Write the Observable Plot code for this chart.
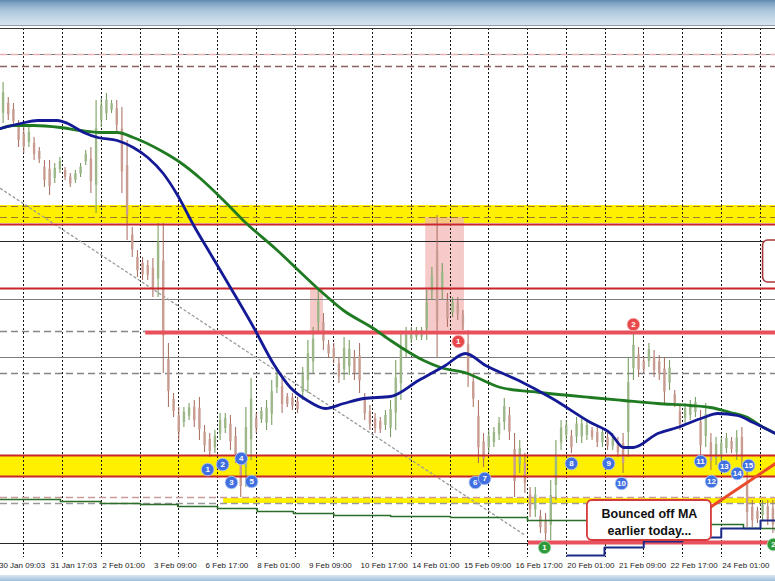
<!DOCTYPE html>
<html><head><meta charset="utf-8">
<script src="https://cdn.jsdelivr.net/npm/d3@7"></script>
<script src="https://cdn.jsdelivr.net/npm/@observablehq/plot@0.6"></script>
<style>
html,body{margin:0;padding:0;overflow:hidden;background:#fff;width:775px;height:581px}
#top{height:25px;background:linear-gradient(#5f88ad 0px,#7fa3c3 3px,#a9c4db 10px,#d5e3ef 24px);border-bottom:1px solid #8d9cab}
#bot{height:6px;background:linear-gradient(#dbe8f3,#9fbdd8)}
#chart svg{display:block}
</style></head><body>
<div id="top"></div><div id="chart"></div><div id="bot"></div>
<script>
// ---- candle data (price highs / lows per bar) ----
const highs = [1.1048,1.1033,1.1027,1.1010,1.1003,1.1003,1.0993,1.0983,1.0970,1.0970,
 1.0967,1.0973,1.0963,1.0957,1.0960,1.0967,1.0980,1.0983,1.1030,1.1032,
 1.1037,1.1030,1.1030,1.1023,1.0990,1.0903,1.0880,1.0873,1.0870,1.0872,
 1.0907,1.0907,1.0787,1.0737,1.0723,1.0723,1.0727,1.0730,1.0733,1.0705,
 1.0697,1.0700,1.0717,1.0717,1.0715,1.0703,1.0677,1.0723,1.0752,1.0717,
 1.0723,1.0730,1.0750,1.0760,1.0753,1.0737,1.0737,1.0733,1.0763,1.0790,
 1.0803,1.0840,1.0817,1.0790,1.0787,1.0773,1.0793,1.0790,1.0780,1.0787,
 1.0737,1.0725,1.0717,1.0713,1.0720,1.0730,1.0770,1.0797,1.0803,1.0803,
 1.0803,1.0803,1.0840,1.0863,1.0915,1.0867,1.0837,1.0833,1.0833,1.0820,
 1.0800,1.0757,1.0730,1.0697,1.0700,1.0703,1.0713,1.0732,1.0723,1.0697,
 1.0690,1.0677,1.0643,1.0643,1.0620,1.0617,1.0650,1.0690,1.0710,1.0710,
 1.0700,1.0713,1.0713,1.0710,1.0703,1.0703,1.0703,1.0697,1.0697,1.0693,
 1.0697,1.0773,1.0797,1.0783,1.0773,1.0787,1.0780,1.0775,1.0773,1.0770,
 1.0740,1.0725,1.0727,1.0730,1.0733,1.0720,1.0727,1.0697,1.0693,1.0693,
 1.0697,1.0693,1.0700,1.0703,1.0663,1.0630,1.0623,1.0630,1.0630,1.0630];
const lows = [1.1007,1.1010,1.1003,1.0983,1.0977,1.0983,1.0970,1.0967,1.0943,1.0935,
 1.0947,1.0957,1.0950,1.0943,1.0947,1.0953,1.0965,1.0937,1.0917,1.1003,
 1.1010,1.1017,1.0997,1.0937,1.0890,1.0873,1.0853,1.0850,1.0850,1.0833,
 1.0833,1.0757,1.0723,1.0713,1.0690,1.0703,1.0710,1.0703,1.0690,1.0678,
 1.0673,1.0677,1.0690,1.0697,1.0680,1.0667,1.0633,1.0643,1.0670,1.0697,
 1.0707,1.0700,1.0705,1.0737,1.0717,1.0723,1.0720,1.0717,1.0730,1.0737,
 1.0757,1.0797,1.0780,1.0772,1.0767,1.0747,1.0750,1.0755,1.0750,1.0737,
 1.0710,1.0700,1.0697,1.0697,1.0700,1.0693,1.0700,1.0730,1.0773,1.0787,
 1.0790,1.0790,1.0790,1.0830,1.0773,1.0830,1.0803,1.0813,1.0810,1.0800,
 1.0743,1.0723,1.0667,1.0663,1.0677,1.0683,1.0690,1.0700,1.0690,1.0633,
 1.0657,1.0637,1.0613,1.0613,1.0597,1.0590,1.0590,1.0630,1.0680,1.0690,
 1.0677,1.0687,1.0687,1.0690,1.0690,1.0683,1.0683,1.0680,1.0680,1.0673,
 1.0657,1.0673,1.0750,1.0753,1.0757,1.0763,1.0753,1.0750,1.0727,1.0740,
 1.0723,1.0700,1.0707,1.0710,1.0713,1.0673,1.0683,1.0660,1.0665,1.0670,
 1.0677,1.0677,1.0670,1.0663,1.0603,1.0603,1.0607,1.0610,1.0605,1.0597];

// ---- moving averages: [bar, price] ----
const blueMA = [[0,1.1002],[3.9,1.1007],[7.2,1.1010],[11.0,1.1010],[13.0,1.1007],[16.1,1.0998],[18.8,1.0993],[22.6,1.0990],[25.7,1.0983],[28.5,1.0973],[31.5,1.0957],[34.3,1.0935],[37.4,1.0905],[40.6,1.0877],[44.5,1.0843],[49.0,1.0803],[52.8,1.0767],[56.1,1.0743],[59.4,1.0730],[62.9,1.0722],[66.4,1.0727],[70.3,1.0732],[75.5,1.0734],[80.9,1.0750],[86.1,1.0765],[90.0,1.0777],[93.9,1.0765],[100.3,1.0750],[106.8,1.0732],[114.2,1.0708],[118.1,1.0697],[120.6,1.0683],[122.5,1.0683],[127.2,1.0697],[131.0,1.0703],[136.1,1.0713],[138.8,1.0717],[142.6,1.0715],[145.7,1.0708],[150,1.0697]];
const greenMA = [[0,1.1002],[2.5,1.1005],[6.4,1.1005],[11.6,1.1003],[15.5,1.1000],[19.4,1.0998],[22.6,1.0998],[25.7,1.0993],[31.0,1.0980],[34.8,1.0968],[38.7,1.0952],[43.2,1.0930],[47.0,1.0910],[53.6,1.0880],[61.4,1.0842],[66.4,1.0820],[72.2,1.0802],[75.5,1.0790],[81.9,1.0770],[85.2,1.0763],[90.4,1.0757],[94.3,1.0748],[96.8,1.0743],[104.5,1.0738],[114.2,1.0733],[120.6,1.0730],[127.2,1.0727],[133.5,1.0725],[137.4,1.0723],[141.3,1.0718],[144.6,1.0713],[147.7,1.0703],[150,1.0697]];
const greenStep = [[0,1.0631],[11.6,1.0629],[19.4,1.0627],[27.1,1.0626],[34.3,1.0624],[42.0,1.0622],[49.7,1.0619],[56.7,1.0617],[64.5,1.0615],[75.5,1.0614],[87.1,1.0613],[102.0,1.0610],[116.1,1.0609],[125.8,1.0608],[135.5,1.0606],[143.8,1.0602],[150,1.0600]];
const navyStep = [[109.7,1.0575],[116.9,1.0583],[124.5,1.0589],[132.0,1.0593],[139.5,1.0602],[147.1,1.0610],[150,1.0610]];

// ---- horizontal levels ----
const grayLevels = [1.1076, 1.0831, 1.0773];
const blackLevels = [1.0889, 1.0587];
const redLevels = [1.0906, 1.0842, 1.0675, 1.0654];
const thickRed = [{p:1.0798, from:28.1}, {p:1.0588, from:102.2}];
const dashedLevels = [{p:1.1064, c:"#8c5f5f", to:150}, {p:1.0757, c:"#858585", to:150}, {p:1.0799, c:"#858585", to:28.1}, {p:1.1076, c:"#e9b3b3", to:150}, {p:1.0633, c:"#c99a9a", to:150}, {p:1.0627, c:"#9a9a9a", to:150}];
const bandDashes = [1.0924, 1.0913];
const yellowBands = [{x1:0,x2:150,y1:1.0907,y2:1.0925},{x1:0,x2:150,y1:1.0654,y2:1.0675},{x1:43.2,x2:150,y1:1.0627,y2:1.0632}];
const pinkZones = [{x1:82.3,x2:89.8,y1:1.0800,y2:1.0913},{x1:60.0,x2:62.5,y1:1.0797,y2:1.0842}];
const trendLine = [[0,1.0942],[101.6,1.0595]];

// ---- markers ----
const blueMarks = [[40.1,1.0661,"1"],[43.0,1.0666,"2"],[44.7,1.0648,"3"],[46.6,1.0672,"4"],[48.6,1.0649,"5"],[91.9,1.0648,"6"],[93.7,1.0652,"7"],[110.5,1.0667,"8"],[117.7,1.0667,"9"],[120.2,1.0647,"10"],[135.5,1.0669,"11"],[137.6,1.0649,"12"],[140.1,1.0664,"13"],[142.6,1.0657,"14"],[144.8,1.0665,"15"]];
const redMarks = [[88.6,1.0789,"1"],[122.5,1.0806,"2"]];
const greenMarks = [[105.3,1.0583,"1"],[149.6,1.0586,"2"]];

// ---- annotations ----
const noteBox = [{x1:113.6,x2:137.6,y1:1.0590,y2:1.0630}];
const noteLines = [{x:125.6,y:1.0617,t:"Bounced off MA"},{x:125.6,y:1.0600,t:"earlier today..."}];
const arrow = [[137.6,1.0624],[150,1.0667]];
const sideBox = [{x1:147.6,x2:160,y1:1.0848,y2:1.0890}];

// ---- x axis ----
const gridBars = [4.5,12,19.5,27,34.5,42,49.5,57,64.5,72,79.5,87,94.5,102,109.5,117,124.5,132,139.5,147];
const tickBars = [-0.3,9.7,19.7,29.7,39.7,49.7,59.7,69.7,79.7,89.7,99.7,109.7,119.7,129.7,139.7];
const tickLabels = ["30 Jan 09:03","31 Jan 17:03","2 Feb 01:00","3 Feb 09:00","6 Feb 17:00","8 Feb 01:00","9 Feb 09:00","10 Feb 17:00","14 Feb 01:00","15 Feb 09:00","16 Feb 17:00","20 Feb 01:00","21 Feb 09:00","22 Feb 17:00","24 Feb 01:00"];

const bars = highs.map((h,i)=>{
  const lo = lows[i];
  const mid = (h+lo)/2;
  const prev = i>0 ? (highs[i-1]+lows[i-1])/2 : mid;
  return {x:i+0.5, hi:h, lo, b1: lo+(h-lo)*0.25, b2: lo+(h-lo)*0.75, up: mid>=prev};
});
const ticks = tickBars.map((b,i)=>({x:b, label:tickLabels[i]}));
const pt = a => a.map(d=>({x:d[0], y:d[1], t:d[2]}));

const chart = Plot.plot({
  width: 775, height: 549,
  marginTop: 2, marginBottom: 18, marginLeft: 0, marginRight: 0,
  x: {domain:[0,150], axis:null},
  y: {domain:[1.0573,1.1102], axis:null},
  style: {fontFamily:"Liberation Sans, Arial, sans-serif", background:"white"},
  marks: [
    Plot.rect(yellowBands, {x1:"x1",x2:"x2",y1:"y1",y2:"y2", fill:"#fff000"}),
    Plot.rect(pinkZones, {x1:"x1",x2:"x2",y1:"y1",y2:"y2", fill:"#f4b4b4", fillOpacity:0.7}),
    Plot.ruleX(gridBars, {x:d=>d, y1:1.1102, y2:1.0573, stroke:"#111", strokeWidth:1, strokeDasharray:"2,2", shapeRendering:"crispEdges"}),
    Plot.ruleY([1.1102], {stroke:"#3a3a3a", strokeWidth:1, shapeRendering:"crispEdges"}),
    Plot.ruleY(grayLevels, {stroke:"#7c7c7c", strokeWidth:1.2}),
    Plot.ruleY(blackLevels, {stroke:"#262626", strokeWidth:1.2}),
    Plot.ruleY(dashedLevels, {y:"p", x1:0, x2:"to", stroke:"c", strokeWidth:1.5, strokeDasharray:"7,4"}),
    Plot.ruleY(bandDashes, {stroke:"#a07a28", strokeWidth:1, strokeDasharray:"7,4"}),
    Plot.line(pt(trendLine), {x:"x", y:"y", stroke:"#9a9a9a", strokeWidth:1.3, strokeDasharray:"2,3"}),
    Plot.ruleX(bars, {x:"x", y1:"lo", y2:"hi", stroke:d=>d.up?"#6e9656":"#a8695c", strokeWidth:1}),
    Plot.ruleX(bars, {x:"x", y1:"b1", y2:"b2", stroke:d=>d.up?"#9cb888":"#c89c90", strokeWidth:2.4}),
    Plot.ruleY(redLevels, {stroke:"#c8262a", strokeWidth:2}),
    Plot.ruleY(thickRed, {y:"p", x1:"from", x2:150, stroke:"#e8505c", strokeWidth:4}),
    Plot.line(pt(greenStep), {x:"x", y:"y", curve:"step-after", stroke:"#2a6e2a", strokeWidth:1.6}),
    Plot.line(pt(navyStep), {x:"x", y:"y", curve:"step-after", stroke:"#1c2a86", strokeWidth:2}),
    Plot.line(pt(greenMA), {x:"x", y:"y", curve:"monotone-x", stroke:"#1f7a22", strokeWidth:2.8}),
    Plot.line(pt(blueMA), {x:"x", y:"y", curve:"monotone-x", stroke:"#141a96", strokeWidth:2.8}),
    Plot.line(pt(arrow), {x:"x", y:"y", stroke:"#ea4a2a", strokeWidth:3}),
    Plot.rect(sideBox, {x1:"x1",x2:"x2",y1:"y1",y2:"y2", fill:"white", stroke:"#a8383a", strokeWidth:1.6, rx:5}),
    Plot.rect(noteBox, {x1:"x1",x2:"x2",y1:"y1",y2:"y2", fill:"white", stroke:"#d63a3a", strokeWidth:1.8, rx:5}),
    Plot.text(noteLines, {x:"x", y:"y", text:"t", fontSize:12.5, fontWeight:"bold", fill:"#111"}),
    Plot.dot(pt(blueMarks), {x:"x", y:"y", r:6.3, fill:"#3f6fe0", stroke:"#b9ccf5", strokeWidth:0.8}),
    Plot.text(pt(blueMarks), {x:"x", y:"y", text:"t", fill:"white", fontSize:8, fontWeight:"bold"}),
    Plot.dot(pt(redMarks), {x:"x", y:"y", r:6.3, fill:"#e8484a", stroke:"#f5b8b8", strokeWidth:0.8}),
    Plot.text(pt(redMarks), {x:"x", y:"y", text:"t", fill:"white", fontSize:8, fontWeight:"bold"}),
    Plot.dot(pt(greenMarks), {x:"x", y:"y", r:6.3, fill:"#2e9a3a", stroke:"#b8e0bc", strokeWidth:0.8}),
    Plot.text(pt(greenMarks), {x:"x", y:"y", text:"t", fill:"white", fontSize:8, fontWeight:"bold"}),
    Plot.text(ticks, {x:"x", text:"label", frameAnchor:"bottom", dy:8, textAnchor:"start", lineAnchor:"middle", fontSize:8, fill:"#222", fontFamily:"Liberation Sans Narrow, Liberation Sans, sans-serif"})
  ]
});
document.getElementById("chart").append(chart);
</script></body></html>
